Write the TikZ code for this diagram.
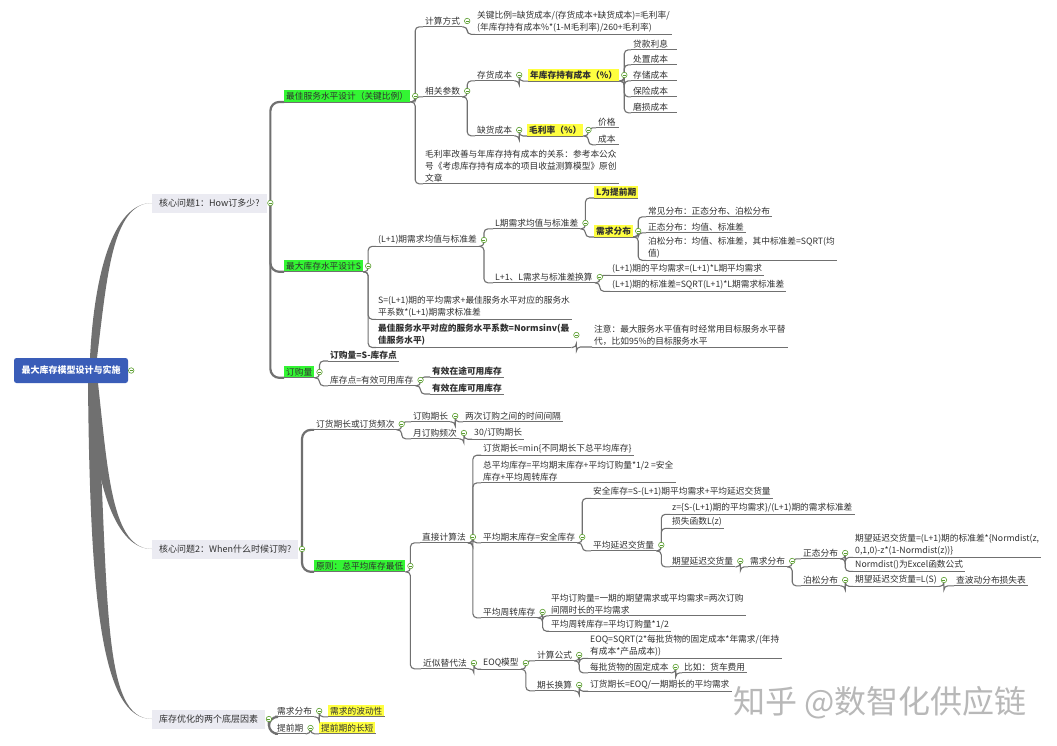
\documentclass[tikz,border=0pt]{standalone}
\usepackage{fontspec}
\setmainfont{Noto Sans CJK SC}
\usetikzlibrary{calc}
\definecolor{lc}{HTML}{707070}
\definecolor{txt}{HTML}{303030}
\definecolor{hlg}{HTML}{33F533}
\definecolor{hly}{HTML}{FFFF40}
\definecolor{kfill}{HTML}{EBEBF2}
\definecolor{rootc}{HTML}{3A5DB8}
\definecolor{cg}{HTML}{5A9E2E}
\newcommand\fs{\fontsize{8.7}{12}\selectfont}
\newcommand\fk{\fontsize{9}{11}\selectfont}
\begin{document}
\begin{tikzpicture}[x=1pt,y=-1pt,
  t/.style={anchor=west, inner xsep=2pt, inner ysep=1.6pt, text=txt, font=\fs, align=left},
  tb/.style={t, font=\fs\bfseries},
  gb/.style={t, fill=hlg},
  yb/.style={t, fill=hly, font=\fs\bfseries},
  yn/.style={t, fill=hly},
  kb/.style={anchor=west, fill=kfill, inner xsep=7pt, inner ysep=0pt, minimum height=19pt, text=txt, font=\fk},
  rootbox/.style={fill=rootc, text=white, rounded corners=2.5pt, minimum width=114pt, minimum height=25pt, inner sep=0pt, font=\fk\bfseries},
  tw/.style={text width=#1},
  circ/.style={circle, draw=cg, line width=0.6pt, fill=white, inner sep=0pt, minimum size=5.5pt,
    path picture={\draw[cg, line width=0.5pt] ([xshift=-1.5pt]path picture bounding box.center) -- ([xshift=1.5pt]path picture bounding box.center);}},
  conn/.style={draw=lc, line width=1.1pt, rounded corners=4pt},
  trunk/.style={draw=lc, line width=2.2pt, rounded corners=9pt},
  ul/.style={draw=lc, line width=0.8pt},
]
\fill[white] (0,0) rectangle (1057,745);
\useasboundingbox (0,0) rectangle (1057,745);

% root and level 1
\node[rootbox] (root) at (71,370.5) {最大库存模型设计与实施};
\node[kb] (k1) at (152,203) {核心问题1：How订多少?};
\node[kb] (k2) at (152,549) {核心问题2：When什么时候订购?};
\node[kb] (k3) at (152,719) {库存优化的两个底层因素};

\fill[lc] ($(root.north)+(19,0)$) .. controls +(4,-80) and +(-40,0) .. (k1.west)
   .. controls +(-40,0) and +(10,-80) .. ($(root.north)+(26,0)$) -- cycle;
\fill[lc] ($(root.south)+(18,0)$) .. controls +(4,90) and +(-40,0) .. (k2.west)
   .. controls +(-40,0) and +(10,90) .. ($(root.south)+(27,0)$) -- cycle;
\fill[lc] ($(root.south)+(17,0)$) .. controls +(2,220) and +(-50,0) .. (k3.west)
   .. controls +(-50,0) and +(12,220) .. ($(root.south)+(26,0)$) -- cycle;

% ---- branch 1: A
\node[gb] (a) at (284,96) {最佳服务水平设计（关键比例）};
\node[t] (a1) at (423,21) {计算方式};
\node[t] (a11) at (475,22) {关键比例=缺货成本/(存货成本+缺货成本)=毛利率/\\(年库存持有成本\%*(1-M毛利率)/260+毛利率)};
\node[t] (a2) at (423,91) {相关参数};
\node[t] (a21) at (475,75) {存货成本};
\node[yb] (a211) at (528,75) {年库存持有成本（\%）};
\node[t,tw=42pt] (a2111) at (631,44) {贷款利息};
\node[t,tw=42pt] (a2112) at (631,59) {处置成本};
\node[t,tw=42pt] (a2113) at (631,75) {存储成本};
\node[t,tw=42pt] (a2114) at (631,91) {保险成本};
\node[t,tw=42pt] (a2115) at (631,107) {磨损成本};
\node[t] (a22) at (475,130) {缺货成本};
\node[yb] (a221) at (527,130) {毛利率（\%）};
\node[t,tw=19pt] (a2211) at (596,122) {价格};
\node[t,tw=19pt] (a2212) at (596,139) {成本};
\node[t] (a3) at (423,166) {毛利率改善与年库存持有成本的关系：参考本公众\\号《考虑库存持有成本的项目收益测算模型》原创\\文章};

% ---- B
\node[gb] (b) at (284,266) {最大库存水平设计S};
\node[t] (b1) at (376,240) {(L+1)期需求均值与标准差};
\node[t] (b11) at (493,223) {L期需求均值与标准差};
\node[yb] (b111) at (594,192) {L为提前期};
\node[yb] (b112) at (594,231) {需求分布};
\node[t] (b1121) at (646,211) {常见分布：正态分布、泊松分布};
\node[t] (b1122) at (646,227) {正态分布：均值、标准差};
\node[t] (b1123) at (646,248) {泊松分布：均值、标准差，其中标准差=SQRT(均\\值)};
\node[t] (b12) at (493,277) {L+1、L需求与标准差换算};
\node[t] (b121) at (610,269) {(L+1)期的平均需求=(L+1)*L期平均需求};
\node[t] (b122) at (610,285) {(L+1)期的标准差=SQRT(L+1)*L期需求标准差};
\node[t] (b2) at (376,307) {S=(L+1)期的平均需求+最佳服务水平对应的服务水\\平系数*(L+1)期需求标准差};
\node[tb] (b3) at (376,335) {最佳服务水平对应的服务水平系数=Normsinv(最\\佳服务水平)};
\node[t] (b31) at (592,335) {注意：最大服务水平值有时经常用目标服务水平替\\代，比如95\%的目标服务水平};

% ---- C
\node[gb] (c) at (284,372) {订购量};
\node[tb] (c1) at (328,355) {订购量=S-库存点};
\node[t] (c2) at (328,380) {库存点=有效可用库存};
\node[tb] (c21) at (430,371) {有效在途可用库存};
\node[tb] (c22) at (430,388) {有效在库可用库存};

% ---- branch 2
\node[t] (d) at (314,424) {订货期长或订货频次};
\node[t] (d1) at (411,416) {订购期长};
\node[t] (d11) at (463,416) {两次订购之间的时间间隔};
\node[t] (d2) at (411,433) {月订购频次};
\node[t] (d21) at (472,433) {30/订购期长};
\node[gb] (e) at (314,566) {原则：总平均库存最低};
\node[t] (e1) at (420,537) {直接计算法};
\node[t] (e11) at (481,449) {订货期长=min\{不同期长下总平均库存\}};
\node[t] (e12) at (481,471) {总平均库存=平均期末库存+平均订购量*1/2 =安全\\库存+平均周转库存};
\node[t] (e13) at (481,537) {平均期末库存=安全库存};
\node[t] (e131) at (591,492) {安全库存=S-(L+1)期平均需求+平均延迟交货量};
\node[t] (e132) at (591,545) {平均延迟交货量};
\node[t] (e1321) at (670,508) {z=\{S-(L+1)期的平均需求\}/(L+1)期的需求标准差};
\node[t] (e1322) at (670,522) {损失函数L(z)};
\node[t] (e1323) at (670,561) {期望延迟交货量};
\node[t] (f) at (748,561) {需求分布};
\node[t] (f1) at (801,553) {正态分布};
\node[t] (f11) at (853,545) {期望延迟交货量=(L+1)期的标准差*\{Normdist(z,\\0,1,0)-z*(1-Normdist(z))\}};
\node[t] (f12) at (853,565) {Normdist()为Excel函数公式};
\node[t] (f2) at (801,580) {泊松分布};
\node[t] (f21) at (853,580) {期望延迟交货量=L(S)};
\node[t] (f211) at (954,580) {查波动分布损失表};
\node[t] (e14) at (481,612) {平均周转库存};
\node[t] (e141) at (549,604) {平均订购量=一期的期望需求或平均需求=两次订购\\间隔时长的平均需求};
\node[t] (e142) at (549,625) {平均周转库存=平均订购量*1/2};
\node[t] (e2) at (421,663) {近似替代法};
\node[t] (e21) at (481,663) {EOQ模型};
\node[t] (e211) at (535,655) {计算公式};
\node[t] (e2111) at (588,646) {EOQ=SQRT(2*每批货物的固定成本*年需求/(年持\\有成本*产品成本))};
\node[t] (e2112) at (588,667) {每批货物的固定成本};
\node[t] (e21121) at (682,667) {比如：货车费用};
\node[t] (e212) at (535,685) {期长换算};
\node[t] (e2121) at (588,685) {订货期长=EOQ/一期期长的平均需求};

% ---- branch 3
\node[t] (g1) at (275,711) {需求分布};
\node[yn] (g11) at (328,711) {需求的波动性};
\node[t] (g2) at (275,728) {提前期};
\node[yn] (g21) at (319,728) {提前期的长短};

% trunks from level 1
\foreach \p/\c in {k1/a,k1/b,k1/c,k2/d,k2/e,k3/g1,k3/g2}
  \draw[trunk] ([xshift=3.5pt]\p.east) |- (\c.south west);

% underlines
\foreach \n in {a,a1,a11,a2,a21,a211,a2111,a2112,a2113,a2114,a2115,a22,a221,a2211,a2212,a3,
  b,b1,b11,b111,b112,b1121,b1122,b1123,b12,b121,b122,b2,b3,b31,c,c1,c2,c21,c22,
  d,d1,d11,d2,d21,e,e1,e11,e12,e13,e131,e132,e1321,e1322,e1323,f,f1,f11,f12,f2,f21,f211,
  e14,e141,e142,e2,e21,e211,e2111,e2112,e21121,e212,e2121,g1,g11,g2,g21}
  \draw[ul] (\n.south west) -- (\n.south east);

% connectors
\foreach \p/\c in {a/a1,a/a2,a/a3,a1/a11,a2/a21,a2/a22,a21/a211,a211/a2111,a211/a2112,a211/a2113,a211/a2114,a211/a2115,
  a22/a221,a221/a2211,a221/a2212,
  b/b1,b/b2,b/b3,b1/b11,b1/b12,b11/b111,b11/b112,b112/b1121,b112/b1122,b112/b1123,b12/b121,b12/b122,b3/b31,
  c/c1,c/c2,c2/c21,c2/c22,
  d/d1,d/d2,d1/d11,d2/d21,e/e1,e/e2,e1/e11,e1/e12,e1/e13,e1/e14,e13/e131,e13/e132,e132/e1321,e132/e1322,e132/e1323,
  e1323/f,f/f1,f/f2,f1/f11,f1/f12,f2/f21,f21/f211,e14/e141,e14/e142,e2/e21,e21/e211,e21/e212,e211/e2111,e211/e2112,
  e2112/e21121,e212/e2121,g1/g11,g2/g21}
  \draw[conn] (\p.south east) -- ([xshift=5pt]\p.south east) |- (\c.south west);

% collapse circles
\node[circ] (root-o) at ([xshift=3pt]root.east) {};
\foreach \n in {k1,k2,k3}
  \node[circ] (\n-o) at ([xshift=3.5pt]\n.east) {};
\foreach \n in {a,a1,a2,a21,a211,a22,a221,b,b1,b11,b112,b12,b3,c,c2,d,d1,d2,e,e1,e13,e132,e1323,f,f1,f2,f21,e14,e2,e21,e211,e2112,e212,g1,g2}
  \node[circ] (\n-o) at ([xshift=5pt]\n.east) {};

% watermark
\node[anchor=west, text=black!28, font=\fontsize{32}{34}\selectfont, inner sep=0pt] (wm) at (733,703) {知乎 @数智化供应链};
\end{tikzpicture}
\end{document}
